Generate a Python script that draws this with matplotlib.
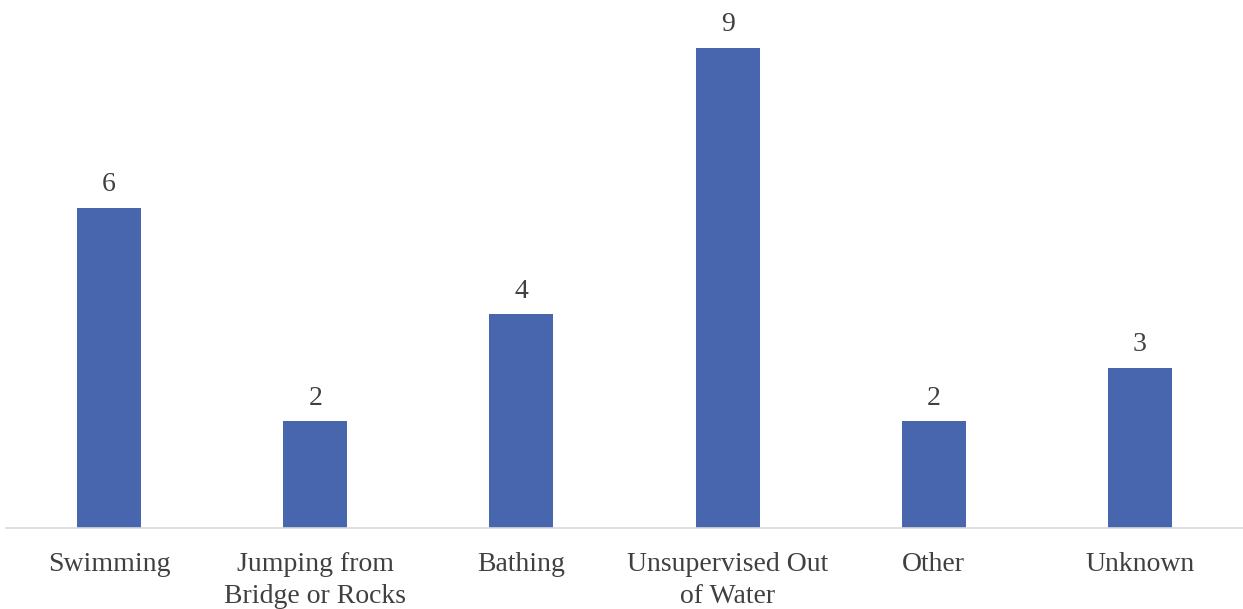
import numpy as np
import matplotlib.pyplot as plt

categories = ["Swimming", "Jumping from\nBridge or Rocks", "Bathing",
              "Unsupervised Out\nof Water", "Other", "Unknown"]
counts = [6, 2, 4, 9, 2, 3]

plt.rcParams['font.family'] = ['Liberation Serif', 'DejaVu Serif']

fig = plt.figure(figsize=(12.43, 6.09), dpi=100)
ax = fig.add_axes([6 / 1243, 81 / 609, 1237 / 1243, 528 / 609])

x = np.arange(len(categories))
bars = ax.bar(x, counts, width=0.31, color="#4866AD")
for b, v in zip(bars, counts):
    ax.text(b.get_x() + b.get_width() / 2, v + 0.2, str(v),
            ha="center", va="bottom", fontsize=20, color="#404040")

ax.set_xlim(-0.5, len(categories) - 0.5)
ax.set_ylim(0, 9.89)
ax.set_xticks(x)
ax.set_xticklabels(categories, fontsize=20, color="#404040", linespacing=1.4)
ax.tick_params(axis="x", length=0, pad=17)
ax.set_yticks([])
for s in ["top", "right", "left"]:
    ax.spines[s].set_visible(False)
ax.spines["bottom"].set_color("#D9D9D9")
ax.spines["bottom"].set_linewidth(1.2)

fig.savefig("out.png", dpi=100)
